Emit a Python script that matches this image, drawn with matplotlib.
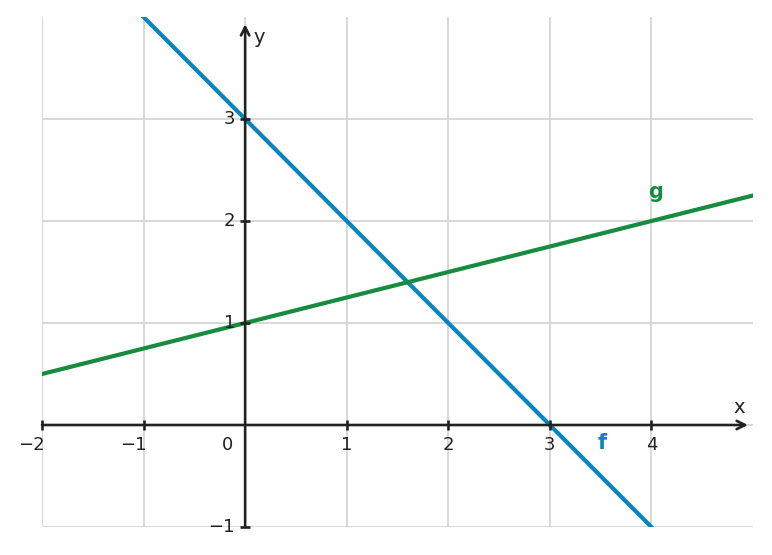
import numpy as np
import matplotlib.pyplot as plt

# Daten
x_ticks = [-2, -1, 1, 2, 3, 4]
y_ticks = [-1, 1, 2, 3]
x_line = np.array([-2, 5])
f_vals = 3 - x_line          # f(x) = 3 - x
g_vals = 0.25 * x_line + 1   # g(x) = 0.25x + 1

blue = '#0785c0'
green = '#178c3f'
dark = '#222222'
grid_c = '#d5d5d5'

fig = plt.figure(figsize=(7.72, 5.55), dpi=100)
ax = fig.add_axes([42 / 772, 28 / 555, 711 / 772, 510 / 555])
ax.set_xlim(-2, 5)
ax.set_ylim(-1, 4)
ax.axis('off')

# Gitter
for xv in range(-2, 5):
    ax.axvline(xv, color=grid_c, lw=1.3, zorder=0)
for yv in range(-1, 4):
    ax.axhline(yv, color=grid_c, lw=1.3, zorder=0)

# Achsen mit Pfeilen
ax.annotate('', xy=(4.95, 0), xytext=(-2, 0),
            arrowprops=dict(arrowstyle='->,head_length=0.6,head_width=0.3', color=dark, lw=1.9, shrinkA=0, shrinkB=0), zorder=3)
ax.annotate('', xy=(0, 3.93), xytext=(0, -1),
            arrowprops=dict(arrowstyle='->,head_length=0.6,head_width=0.3', color=dark, lw=1.9, shrinkA=0, shrinkB=0), zorder=3)

# Ticks
ax.plot(x_ticks, [0] * len(x_ticks), '|', color=dark, ms=7, mew=1.9, clip_on=False, zorder=3)
ax.plot([0] * len(y_ticks), y_ticks, '_', color=dark, ms=7, mew=1.9, clip_on=False, zorder=3)

for xv in x_ticks:
    if xv < 0:
        ax.text(xv + 0.03, -0.11, '\u2212' + str(-xv), ha='right', va='top', fontsize=13, color=dark)
    else:
        ax.text(xv, -0.11, str(xv), ha='center', va='top', fontsize=13, color=dark)
for yv in y_ticks:
    lab = '\u2212' + str(-yv) if yv < 0 else str(yv)
    ax.text(-0.1, yv, lab, ha='right', va='center', fontsize=13, color=dark)
ax.text(-0.17, -0.11, '0', ha='center', va='top', fontsize=13, color=dark)

ax.text(4.86, 0.08, 'x', ha='center', va='bottom', fontsize=14, color=dark)
ax.text(0.08, 3.8, 'y', ha='left', va='center', fontsize=14, color=dark)

# Funktionen
ax.plot(x_line, f_vals, color=blue, lw=3, zorder=2)
ax.plot(x_line, g_vals, color=green, lw=3, zorder=2)
ax.text(3.52, -0.18, 'f', color=blue, fontsize=15, fontweight='bold', ha='center', va='center')
ax.text(4.04, 2.28, 'g', color=green, fontsize=15, fontweight='bold', ha='center', va='center')

fig.savefig('out.png', dpi=100)
